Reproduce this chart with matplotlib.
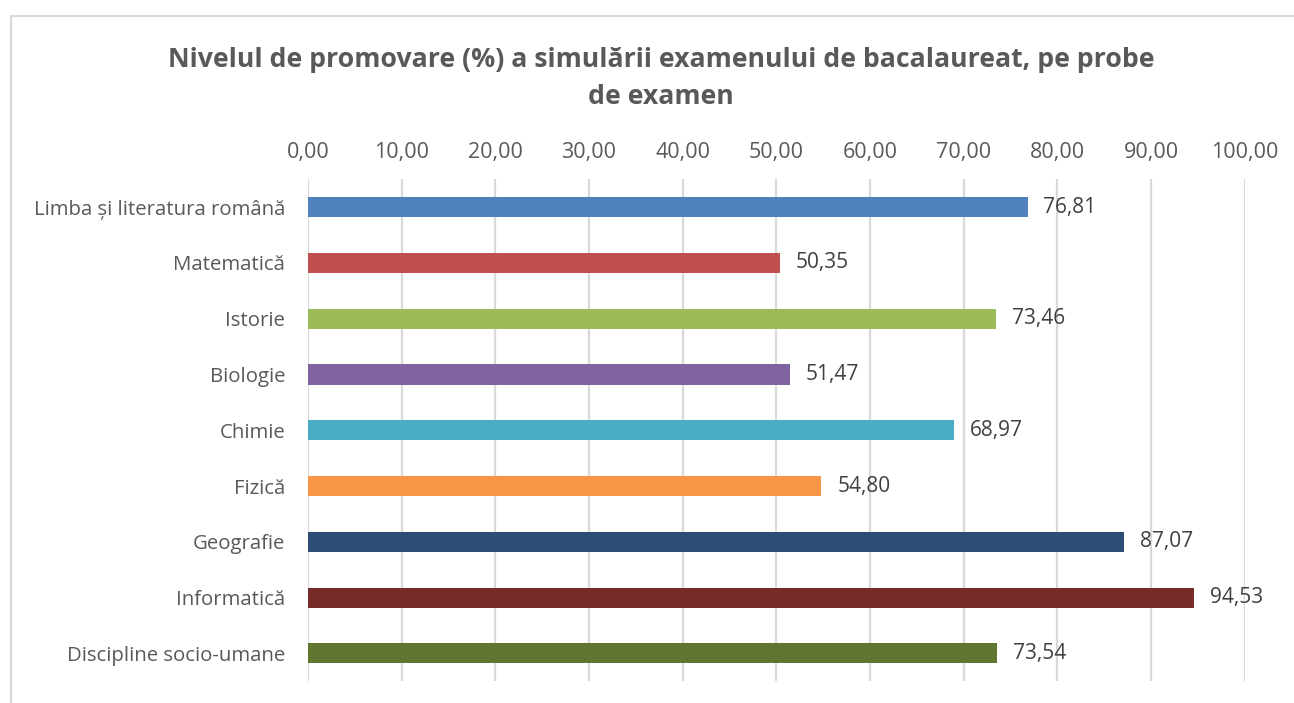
import matplotlib.pyplot as plt
from matplotlib.patches import Rectangle
from matplotlib.ticker import FuncFormatter

categories = ["Limba și literatura română", "Matematică", "Istorie", "Biologie",
              "Chimie", "Fizică", "Geografie", "Informatică", "Discipline socio-umane"]
values = [76.81, 50.35, 73.46, 51.47, 68.97, 54.80, 87.07, 94.53, 73.54]
colors = ["#4F81BD", "#C0504D", "#9BBB59", "#8064A2", "#4BACC6",
          "#F79646", "#2C4D75", "#772C2A", "#5F7530"]
ticks = list(range(0, 101, 10))

plt.rcParams["font.family"] = ["Open Sans", "DejaVu Sans"]

fig = plt.figure(figsize=(12.94, 7.03), dpi=100)
ax = fig.add_axes([0.238, 0.031, 0.724, 0.714])

ypos = list(range(len(categories)))
ax.barh(ypos, values, height=0.36, color=colors, zorder=3)
ax.set_ylim(len(categories) - 0.5, -0.5)
ax.set_xlim(0, 100)

for y, v in zip(ypos, values):
    ax.text(v + 1.7, y, f"{v:.2f}".replace(".", ","), va="center", ha="left",
            fontsize=15, color="#404040")

ax.set_xticks(ticks)
ax.xaxis.set_major_formatter(FuncFormatter(lambda x, p: f"{x:.2f}".replace(".", ",")))
ax.xaxis.tick_top()
ax.tick_params(axis="x", length=0, pad=12, labelsize=15.5, labelcolor="#595959")
ax.set_yticks(ypos)
ax.set_yticklabels(categories)
ax.tick_params(axis="y", length=0, pad=16.5, labelsize=14.7, labelcolor="#595959")
ax.grid(axis="x", color="#D9D9D9", linewidth=1.6, zorder=0)
for s in ax.spines.values():
    s.set_visible(False)

fig.text(0.511, 0.888, "Nivelul de promovare (%) a simulării examenului de bacalaureat, pe probe\nde examen",
         ha="center", va="center", fontsize=19.2, fontweight="bold", color="#595959",
         linespacing=1.55)

fig.patches.append(Rectangle((11 / 1294, -0.05), 1.2, 1 - 16 / 703 + 0.05,
                             transform=fig.transFigure, fill=False,
                             edgecolor="#D9D9D9", linewidth=1.5))

fig.savefig("out.png", dpi=100)
